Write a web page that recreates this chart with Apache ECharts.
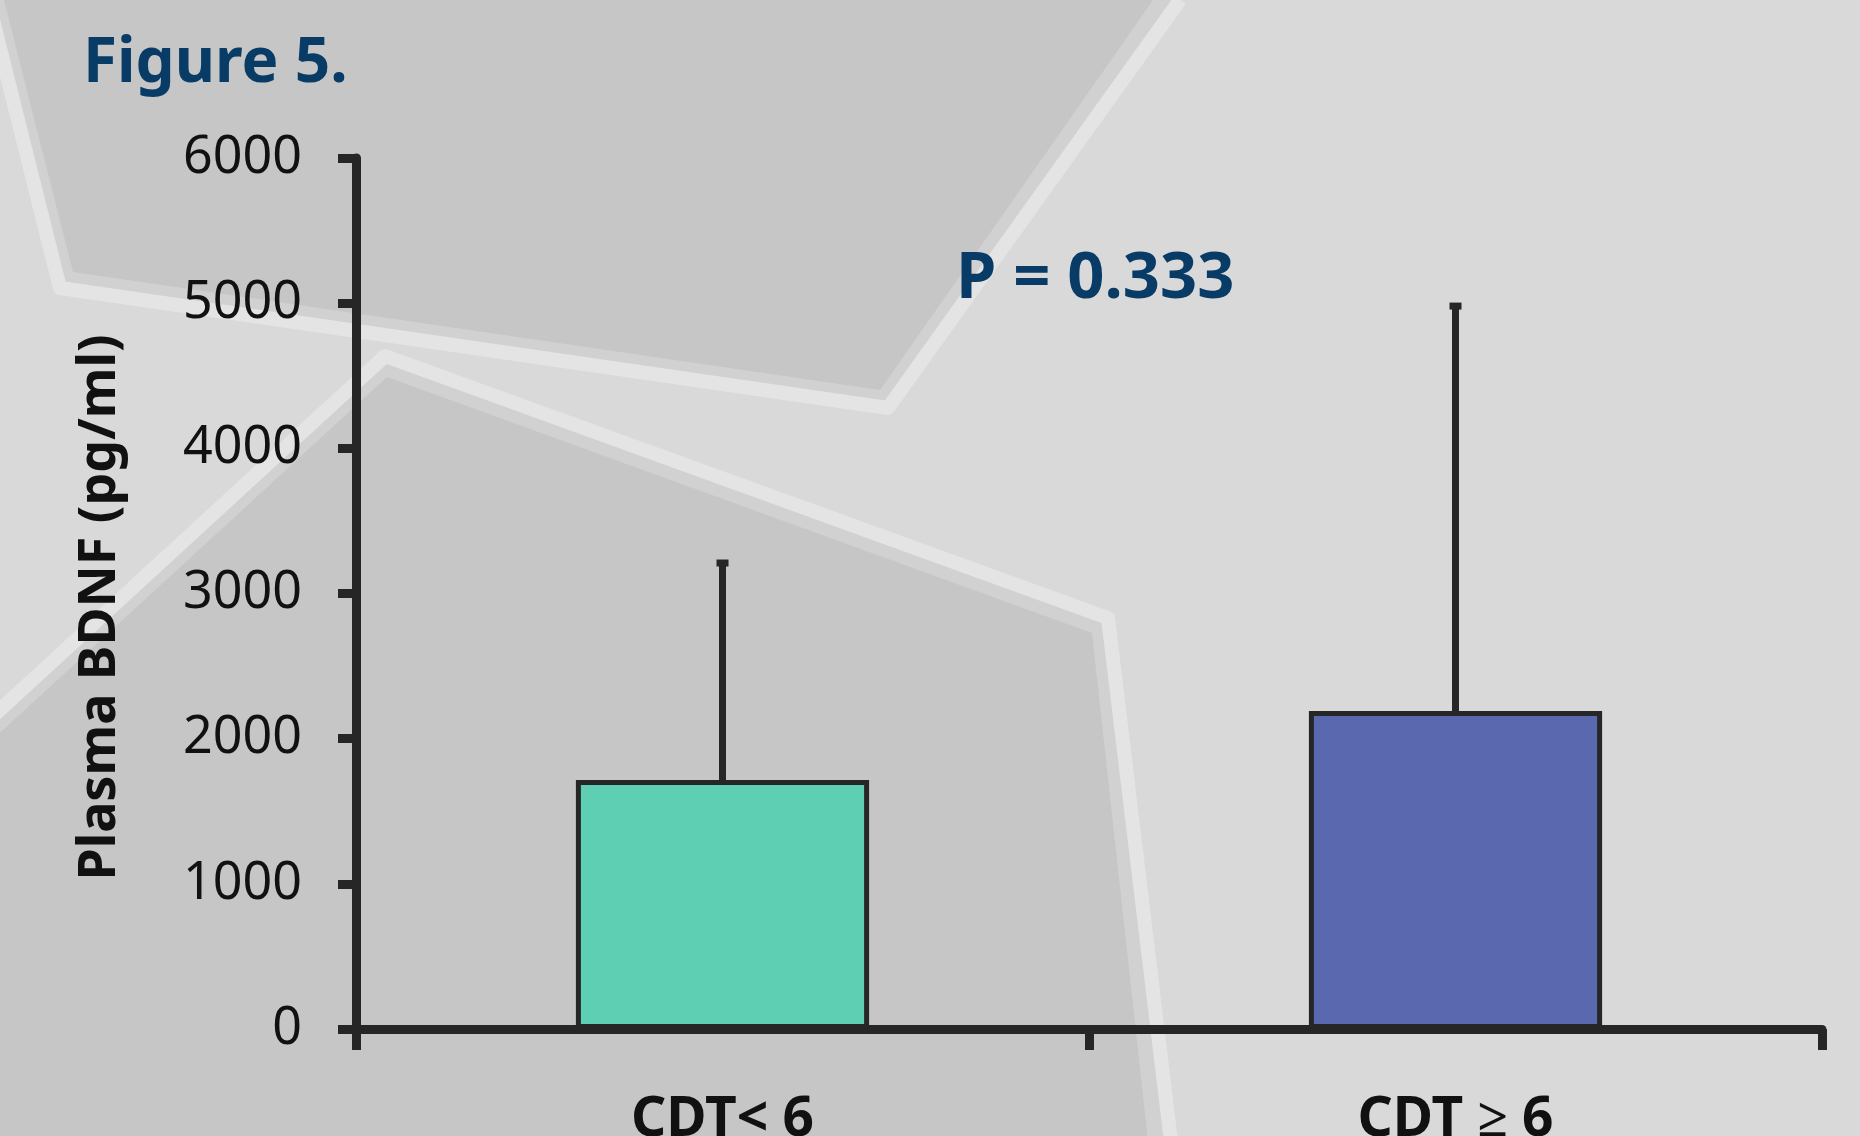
<!DOCTYPE html>
<html>
<head>
<meta charset="utf-8">
<script src="https://cdn.jsdelivr.net/npm/echarts@6.0.0/dist/echarts.min.js"></script>
<style>
html,body{margin:0;padding:0;background:#d9d9d9;overflow:hidden;}
#chart{width:1860px;height:1136px;}
</style>
</head>
<body>
<div id="chart"></div>
<script>
// ---- data ----
const categories = ['CDT< 6', 'CDT ≥ 6'];
const meanValues = [1715, 2190];
const sdValues = [1495, 2790];
const yTicks = [0, 1000, 2000, 3000, 4000, 5000, 6000];
const titleText = 'Figure 5.';
const pValueText = 'P = 0.333';
const yAxisTitle = 'Plasma BDNF (pg/ml)';

// ---- styles ----
const barColors = ['#5ecfb3', '#5a68b0'];
const ink = '#262626';
const navy = '#083b66';

const chart = echarts.init(document.getElementById('chart'), null, {renderer: 'canvas'});

const bgStyle = {strip: '#d1d1d1', dark: '#c6c6c6', band: '#e4e4e4'};
const bandA = [[-12, 0], [60, 288], [888, 408], [1180, 0]];
const darkA = [[4, 0], [1153, 0], [880, 390], [73, 272]];
const bandB = [[-10, 719], [385, 356], [1108, 618], [1172, 1150]];
const darkB = [[-10, 742], [387, 377], [1092, 633], [1149, 1150], [-10, 1150]];

const option = {
  backgroundColor: '#d9d9d9',
  animation: false,
  graphic: [
    {type: 'polygon', z: -30, silent: true, shape: {points: bandA}, style: {fill: bgStyle.strip}},
    {type: 'polygon', z: -29, silent: true, shape: {points: darkA}, style: {fill: bgStyle.dark}},
    {type: 'polyline', z: -28, silent: true, shape: {points: bandA}, style: {stroke: bgStyle.band, lineWidth: 14, lineJoin: 'round', fill: null}},
    {type: 'polygon', z: -30, silent: true, shape: {points: bandB.concat([[1172, 1150], [-10, 1150]])}, style: {fill: bgStyle.strip}},
    {type: 'polygon', z: -29, silent: true, shape: {points: darkB}, style: {fill: bgStyle.dark}},
    {type: 'polyline', z: -28, silent: true, shape: {points: bandB}, style: {stroke: bgStyle.band, lineWidth: 14, lineJoin: 'round', fill: null}}
  ],
  title: [
    {text: titleText, left: 83, top: 33, padding: 0,
     textStyle: {fontFamily: 'Noto Sans', fontWeight: 'bold', fontSize: 62, color: navy}},
    {text: pValueText, left: 956, top: 247, padding: 0,
     textStyle: {fontFamily: 'Noto Sans', fontWeight: 'bold', fontSize: 65, color: navy}}
  ],
  grid: {left: 356, right: 38, top: 158, bottom: 107, outerBoundsMode: 'none', containLabel: false},
  xAxis: {
    type: 'category',
    data: categories,
    boundaryGap: true,
    axisLine: {show: true, lineStyle: {color: ink, width: 9}},
    axisTick: {show: true, length: 21, lineStyle: {color: ink, width: 9}},
    axisLabel: {margin: 64, fontFamily: 'Noto Sans', fontWeight: 'bold', fontSize: 55, color: '#111'},
    splitLine: {show: false}
  },
  yAxis: {
    type: 'value',
    min: yTicks[0],
    max: yTicks[yTicks.length - 1],
    interval: yTicks[1] - yTicks[0],
    name: yAxisTitle,
    nameLocation: 'middle',
    nameGap: 230,
    nameTextStyle: {fontFamily: 'Noto Sans', fontWeight: 'bold', fontSize: 52, color: '#111', padding: [0, 28, 0, 0]},
    axisLine: {show: true, lineStyle: {color: ink, width: 9}},
    axisTick: {show: true, length: 18, lineStyle: {color: ink, width: 9}},
    axisLabel: {margin: 54, fontFamily: 'Noto Sans', fontSize: 52, color: '#111',
                formatter: function (v) { return String(v); }},
    splitLine: {show: false}
  },
  series: [
    {
      type: 'bar',
      barWidth: '40%',
      data: meanValues.map((v, i) => ({value: v, itemStyle: {color: barColors[i]}})),
      itemStyle: {borderColor: ink, borderWidth: 5},
      z: 2
    },
    {
      type: 'custom',
      z: 3,
      encode: {x: 0, y: [1, 2]},
      data: categories.map((c, i) => [i, meanValues[i], meanValues[i] + sdValues[i]]),
      renderItem: function (params, api) {
        const base = api.coord([api.value(0), api.value(1)]);
        const top = api.coord([api.value(0), api.value(2)]);
        return {
          type: 'group',
          children: [
            {type: 'line', shape: {x1: base[0], y1: base[1], x2: top[0], y2: top[1]},
             style: {stroke: ink, lineWidth: 7}},
            {type: 'line', shape: {x1: top[0] - 6, y1: top[1], x2: top[0] + 6, y2: top[1]},
             style: {stroke: ink, lineWidth: 7}}
          ]
        };
      }
    }
  ]
};
chart.setOption(option);
</script>
</body>
</html>
